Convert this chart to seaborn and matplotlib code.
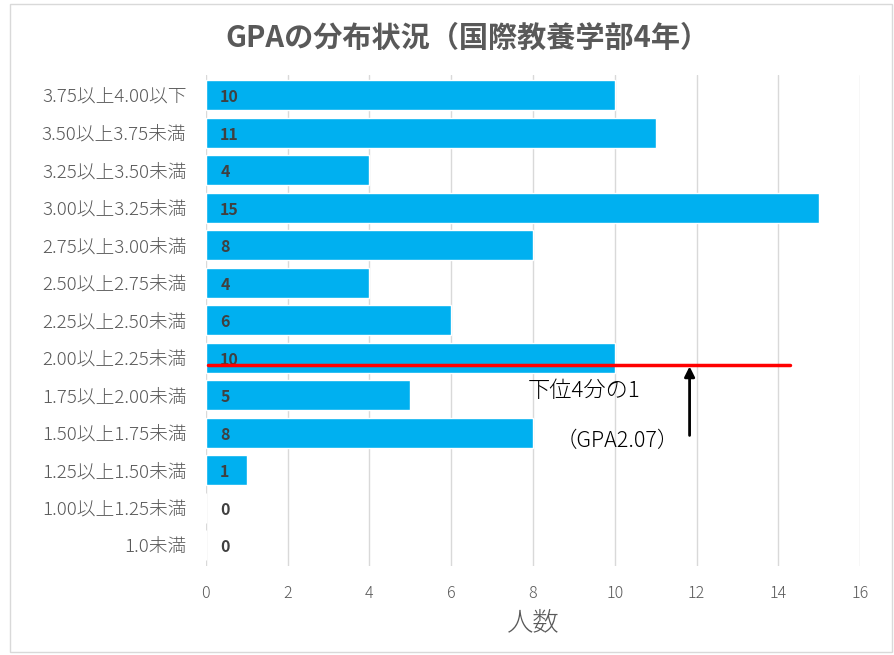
import matplotlib
matplotlib.use("Agg")
import matplotlib.pyplot as plt
import seaborn as sns
import pandas as pd
from matplotlib.patches import Rectangle

categories = ["3.75以上4.00以下", "3.50以上3.75未満", "3.25以上3.50未満", "3.00以上3.25未満",
              "2.75以上3.00未満", "2.50以上2.75未満", "2.25以上2.50未満", "2.00以上2.25未満",
              "1.75以上2.00未満", "1.50以上1.75未満", "1.25以上1.50未満", "1.00以上1.25未満",
              "1.0未満"]
counts = [10, 11, 4, 15, 8, 4, 6, 10, 5, 8, 1, 0, 0]
x_ticks = [0, 2, 4, 6, 8, 10, 12, 14, 16]
title = "GPAの分布状況（国際教養学部4年）"
xlabel = "人数"
note_line1 = "下位4分の1"
note_line2 = "（GPA2.07）"

sns.set_theme(style="white")
plt.rcParams['font.family'] = ['Noto Sans CJK JP', 'DejaVu Sans']

df = pd.DataFrame({"cat": categories, "n": counts})

fig = plt.figure(figsize=(8.95, 6.55), dpi=100)
ax = fig.add_axes([0.230, 0.136, 0.731, 0.750])
sns.barplot(data=df, x="n", y="cat", orient="h", color="#00B0F0", saturation=1,
            width=0.8, ax=ax, zorder=2)

ax.set_xlim(0, 16)
ax.set_ylim(12.55, -0.55)
ax.set_xticks(x_ticks)
ax.xaxis.grid(True, color="#d9d9d9", linewidth=1, zorder=0)
ax.set_axisbelow(True)
for s in ax.spines.values():
    s.set_visible(False)
ax.tick_params(axis="both", length=0, colors="#595959")
ax.tick_params(axis="x", pad=14, labelsize=11.5)
ax.tick_params(axis="y", pad=14, labelsize=13.5)
for lbl in ax.get_yticklabels() + ax.get_xticklabels():
    lbl.set_fontweight("light")
ax.set_ylabel("")
ax.set_xlabel(xlabel, fontsize=19, color="#595959", labelpad=4, fontweight="light")

for i, v in enumerate(counts):
    ax.text(0.35, i + 0.05, str(v), ha="left", va="center", fontsize=11.5,
            fontweight="bold", color="#404040", zorder=3)

# red quartile line
ax.plot([0.05, 14.28], [7.2, 7.2], color="#FF0000", linewidth=2.5, zorder=4)
# arrow
ax.annotate("", xy=(11.83, 7.23), xytext=(11.83, 9.07),
            arrowprops=dict(arrowstyle="-|>", color="black", lw=2,
                            mutation_scale=15, shrinkA=0, shrinkB=0), zorder=5)
ax.text(9.25, 7.88, note_line1, ha="center", va="center", fontsize=16,
        color="black", fontweight="light", zorder=5)
ax.text(10.07, 9.22, note_line2, ha="center", va="center", fontsize=15.5,
        color="black", fontweight="light", zorder=5)

fig.text(0.522, 0.942, title, ha="center", va="center", fontsize=21,
         fontweight="bold", color="#595959")

fig.patches.append(Rectangle((0.011, 0.004), 0.986, 0.99, transform=fig.transFigure,
                             fill=False, edgecolor="#d9d9d9", linewidth=1))

fig.savefig("out.png", dpi=100)
